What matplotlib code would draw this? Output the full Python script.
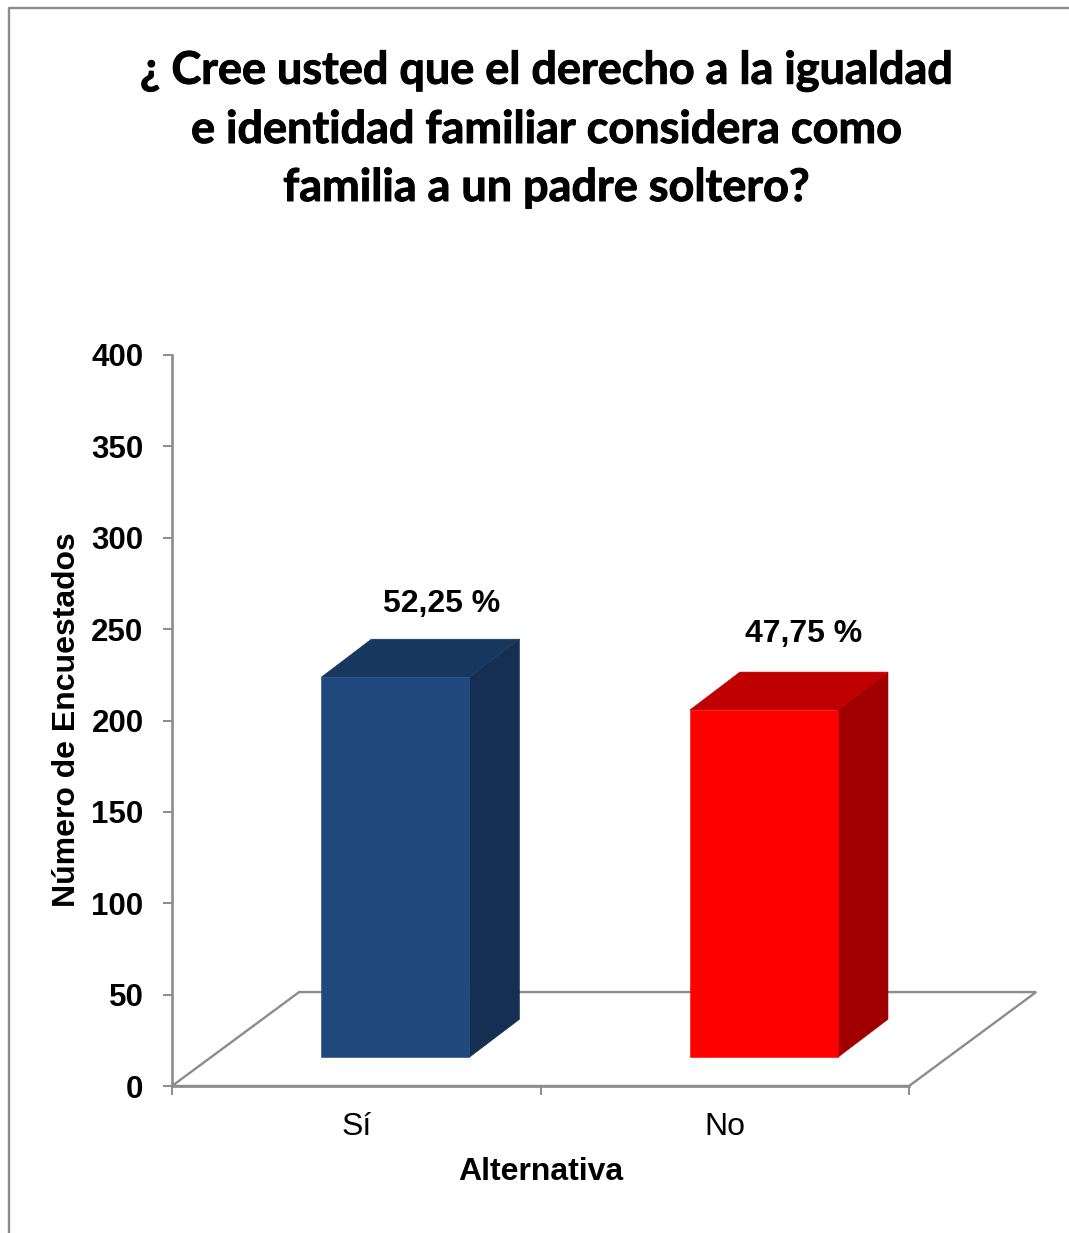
import matplotlib
matplotlib.use("Agg")
import matplotlib.pyplot as plt
import matplotlib.patheffects as pe
from matplotlib.lines import Line2D

W, H = 1069, 1233

title_lines = ["¿ Cree usted que el derecho a la igualdad",
               "e identidad familiar considera como",
               "familia a un padre soltero?"]
categories = ["Sí", "No"]
values = [208, 190]
pct_labels = ["52,25 %", "47,75 %"]
front_colors = ["#1F497D", "#FF0000"]
top_colors = ["#17375E", "#C00000"]
side_colors = ["#152F52", "#A00000"]
y_ticks = [0, 50, 100, 150, 200, 250, 300, 350, 400]
GRAY = "#8C8C8C"

# 3d look, all in data units of the axes (1 category = 368.5 px, 1 y unit = 1.8275 px)
FLOOR_DX, FLOOR_DY = 0.345, 51.4
BAR_W = 0.402
BAR_SHIFT_X, BAR_SHIFT_Y = 0.106, 15.7  # front face offset from the axis plane
BAR_DX, BAR_DY = 0.136, 20.8
# the labels are hand placed in the original, not centred on the bars
LABEL_DX = [0.328, 0.308]
LABEL_DY = [19.4, 20.9]

fig = plt.figure(figsize=(W / 100, H / 100), dpi=100)
ax = fig.add_axes([172 / W, 1 - 1086 / H, 737 / W, 731 / H])
ax.set_xlim(0, 2)
ax.set_ylim(0, 400)
ax.patch.set_alpha(0)

# floor
fx = [0, 2, 2 + FLOOR_DX, FLOOR_DX, 0]
fy = [0, 0, FLOOR_DY, FLOOR_DY, 0]
ax.plot(fx, fy, color=GRAY, lw=1.7, clip_on=False, zorder=1, solid_joinstyle="miter")

for i, (v, label) in enumerate(zip(values, pct_labels)):
    x0 = i + 0.5 - BAR_W / 2 + BAR_SHIFT_X
    x1 = x0 + BAR_W
    y0 = BAR_SHIFT_Y
    y1 = y0 + v
    # side first, thin edge hides the seam where the floor line would show through
    ax.fill([x1, x1 + BAR_DX, x1 + BAR_DX, x1], [y0, y0 + BAR_DY, y1 + BAR_DY, y1],
            facecolor=side_colors[i], edgecolor=side_colors[i], lw=0.4, zorder=3, clip_on=False)
    ax.fill([x0, x1, x1 + BAR_DX, x0 + BAR_DX], [y1, y1, y1 + BAR_DY, y1 + BAR_DY],
            facecolor=top_colors[i], edgecolor=top_colors[i], lw=0.4, zorder=3, clip_on=False)
    ax.fill([x0, x1, x1, x0], [y0, y0, y1, y1], facecolor=front_colors[i],
            edgecolor=front_colors[i], lw=0.4, zorder=3, clip_on=False)
    ax.text(x0 + LABEL_DX[i], y1 + BAR_DY + LABEL_DY[i], label, ha="center", va="center",
            fontfamily="Liberation Sans", fontweight="bold", fontsize=23, color="black")

for s in ["top", "right"]:
    ax.spines[s].set_visible(False)
for s in ["left", "bottom"]:
    ax.spines[s].set_color(GRAY)
    ax.spines[s].set_linewidth(1.9)

ax.set_yticks(y_ticks)
ax.set_xticks([0, 1, 2])
ax.set_xticklabels([])
ax.tick_params(axis="both", direction="out", length=6.5, width=1.4, color=GRAY)
ax.tick_params(axis="y", pad=14)
for t in ax.get_yticklabels():
    t.set_fontfamily("Liberation Sans")
    t.set_fontweight("bold")
    t.set_fontsize(22.5)

for i, c in enumerate(categories):
    ax.text(i + 0.5, -22.5, c, ha="center", va="center", fontfamily="Liberation Sans", fontsize=23)

fig.text(541 / W, 1 - 1172 / H, "Alternativa", ha="center", va="center",
         fontfamily="Liberation Sans", fontweight="bold", fontsize=23)
fig.text(67 / W, 1 - 720 / H, "Número de Encuestados", rotation=90, ha="center", va="center",
         fontfamily="Liberation Sans", fontweight="bold", fontsize=23)

for line, y in zip(title_lines, [71, 130, 188]):
    fig.text(546 / W, 1 - y / H, line, ha="center", va="center",
             fontfamily="Lato", fontweight="bold", fontsize=32.4,
             path_effects=[pe.withStroke(linewidth=0.7, foreground="black")])

# outer frame
fig.add_artist(Line2D([8.5 / W, 8.5 / W, 1], [0, 1 - 7.5 / H, 1 - 7.5 / H],
                      transform=fig.transFigure, color=GRAY, lw=1.7))

fig.savefig("out.png", dpi=100)
